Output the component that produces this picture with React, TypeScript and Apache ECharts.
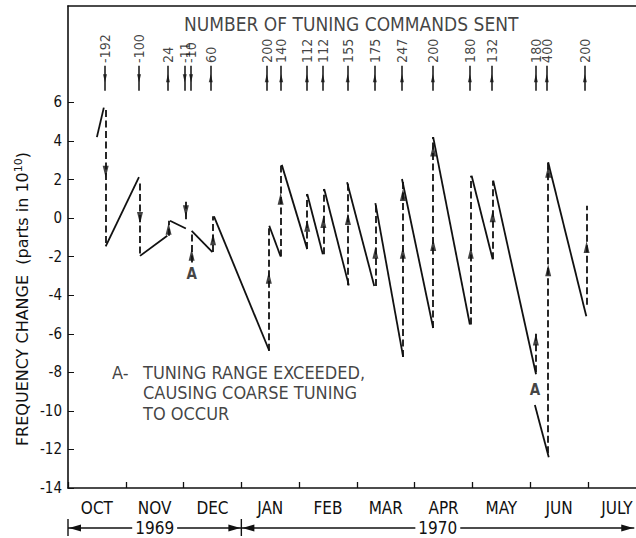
import React, { useEffect, useRef } from "react";
import * as echarts from "echarts";

const FONT = '"DejaVu Sans Condensed", "Liberation Sans Narrow", "DejaVu Sans", sans-serif';
const WIDE_FONT = '"DejaVu Sans", "Liberation Sans", sans-serif';
const INK = "#111";

// x unit: months since 1 Oct 1969
const X_MIN = 0;
const X_MAX = 9.83;
const Y_MIN = -14;
const Y_MAX = 11;

const monthNames = ["OCT", "NOV", "DEC", "JAN", "FEB", "MAR", "APR", "MAY", "JUN", "JULY"];
const monthStarts = [0, 1, 2, 3, 4, 5, 6, 7, 8, 9];
const monthCentres = [0.5, 1.5, 2.5, 3.5, 4.5, 5.5, 6.5, 7.5, 8.5, 9.5];
const yTicks = [-14, -12, -10, -8, -6, -4, -2, 0, 2, 4, 6];

const yearLabels = ["1969", "1970"];
const yearStart = [0, 3];
const yearEnd = [3, 9.8];

// drift segments (solid lines)
const driftX1 = [0.5, 0.652, 1.246, 1.765, 2.14, 2.526, 3.483, 3.7, 4.14, 4.434, 4.83, 5.32, 5.78, 6.32, 6.985, 7.36, 8.08, 8.31];
const driftY1 = [4.2, -1.47, -1.96, -0.14, -0.66, 0.09, -0.4, 2.76, 1.25, 1.51, 1.86, 0.78, 2.03, 4.2, 2.2, 1.94, -9.7, 2.9];
const driftX2 = [0.62, 1.228, 1.718, 2.04, 2.5, 3.483, 3.68, 4.14, 4.41, 4.86, 5.3, 5.8, 6.32, 6.955, 7.35, 8.1, 8.32, 8.97];
const driftY2 = [5.73, 2.12, -0.92, -0.54, -1.76, -6.88, -1.99, -1.61, -1.875, -3.49, -3.52, -7.2, -5.7, -5.52, -2.14, -8.1, -12.4, -5.09];

// tuning corrections (dashed verticals)
const corrX = [0.652, 1.246, 1.74, 2.04, 2.14, 2.51, 3.475, 3.68, 4.14, 4.42, 4.845, 5.32, 5.795, 6.32, 6.97, 7.35, 8.097, 8.31, 8.975];
const corrFrom = [5.6, 1.8, -0.92, 0.85, -2.3, -1.76, -6.88, -1.99, -1.61, -1.875, -3.49, -3.52, -7.2, -5.7, -5.52, -2.14, -8.0, -12.2, -4.5];
const corrTo = [-1.47, -1.96, -0.14, -0.2, -0.83, 0.09, -0.4, 2.76, 1.25, 1.51, 1.86, 0.78, 2.03, 4.2, 2.2, 1.94, -5.9, 2.9, 0.64];

// arrowheads on corrections
const arrowX = [0.652, 1.246, 1.74, 2.04, 2.14, 2.51, 3.475, 3.68, 4.14, 4.42, 4.845, 5.32, 5.795, 5.795, 6.32, 6.32, 6.97, 7.35, 8.097, 8.31, 8.31, 8.975];
const arrowY = [2.4, 0.0, -0.55, 0.35, -1.9, -1.1, -3.1, 1.0, -0.4, -0.2, -0.05, -1.8, 1.2, -1.8, 3.5, -1.4, -1.8, 0.1, -6.3, 2.4, -2.7, -1.5];
const arrowUp = [false, false, true, false, true, true, true, true, true, true, true, true, true, true, true, true, true, true, true, true, true, true];

// number of tuning commands sent
const commandX = [0.64, 1.23, 1.73, 2.02, 2.13, 2.47, 3.44, 3.69, 4.135, 4.41, 4.84, 5.31, 5.78, 6.315, 6.955, 7.335, 8.097, 8.287, 8.945];
const commandText = ["-192", "-100", "24", "-11", "-10", "60", "200", "140", "112", "112", "155", "175", "247", "200", "180", "132", "180", "400", "200"];
const commandTickFrom = 6.6;
const commandTickTo = 7.9;
const commandTextAt = 8.05;

// "A" marks: tuning range exceeded
const aMarkX = [2.14, 8.08];
const aMarkY = [-2.9, -8.9];

// annotation block
const noteKeyX = 0.761;
const noteTextX = 1.298;
const noteLines = ["TUNING RANGE EXCEEDED,", "CAUSING COARSE TUNING", "TO OCCUR"];
const noteLineY = [-8.02, -9.06, -10.16];

const titleText = "NUMBER OF TUNING COMMANDS SENT";
const titleX = 4.9;
const titleY = 10.05;
const yTitleCentre = -4.2;

const textSeries = (items: { x: number; y: number; text: string }[], label: any) => ({
  type: "scatter",
  silent: true,
  symbolSize: 0,
  z: 5,
  data: items.map((it) => ({ value: [it.x, it.y], label: { formatter: it.text } })),
  label: { show: true, color: INK, fontFamily: FONT, ...label },
});

export default function App() {
  const ref = useRef<HTMLDivElement>(null);
  useEffect(() => {
    const chart = echarts.init(ref.current!, null, { renderer: "svg" });
    const axisLine = { show: true, onZero: false, lineStyle: { color: INK, width: 1.6 } };
    const option: any = {
      animation: false,
      backgroundColor: "#fff",
      grid: { left: 68, right: 0, top: 6, bottom: 50 },
      xAxis: [
        {
          type: "value",
          min: X_MIN,
          max: X_MAX,
          position: "bottom",
          axisLine,
          axisTick: { show: true, inside: true, length: 6, customValues: monthStarts, lineStyle: { color: INK, width: 1.3 } },
          axisLabel: {
            show: true,
            customValues: monthCentres,
            formatter: (v: number) => monthNames[Math.floor(v)] ?? "",
            color: INK,
            fontFamily: FONT,
            fontSize: 17,
            margin: 11,
          },
          splitLine: { show: false },
        },
        {
          type: "value",
          min: X_MIN,
          max: X_MAX,
          position: "top",
          axisLine,
          axisTick: { show: false },
          axisLabel: { show: false },
          splitLine: { show: false },
        },
      ],
      yAxis: {
        type: "value",
        min: Y_MIN,
        max: Y_MAX,
        axisLine,
        axisTick: { show: true, inside: true, length: 6, customValues: yTicks, lineStyle: { color: INK, width: 1 } },
        axisLabel: { show: true, customValues: yTicks, color: INK, fontFamily: FONT, fontSize: 15, margin: 6 },
        splitLine: { show: false },
      },
      series: [
        {
          type: "lines",
          coordinateSystem: "cartesian2d",
          silent: true,
          z: 3,
          lineStyle: { color: INK, width: 1.8, opacity: 1, type: "solid" },
          data: driftX1.map((x, i) => ({ coords: [[x, driftY1[i]], [driftX2[i], driftY2[i]]] })),
        },
        {
          type: "lines",
          coordinateSystem: "cartesian2d",
          silent: true,
          z: 3,
          lineStyle: { color: INK, width: 1.8, opacity: 1, type: [7, 3.5] },
          data: corrX.map((x, i) => ({ coords: [[x, corrFrom[i]], [x, corrTo[i]]] })),
        },
        {
          type: "scatter",
          silent: true,
          z: 4,
          symbol: "triangle",
          symbolSize: [6, 12],
          itemStyle: { color: INK },
          data: arrowX.map((x, i) => ({ value: [x, arrowY[i]], symbolRotate: arrowUp[i] ? 0 : 180 })),
        },
        {
          type: "lines",
          coordinateSystem: "cartesian2d",
          silent: true,
          z: 3,
          lineStyle: { color: INK, width: 1.5, opacity: 1, type: "solid" },
          data: commandX.map((x) => ({ coords: [[x, commandTickFrom], [x, commandTickTo]] })),
        },
        {
          type: "scatter",
          silent: true,
          z: 4,
          symbol: "triangle",
          symbolSize: [4, 8],
          itemStyle: { color: INK },
          data: commandX.map((x, i) => ({
            value: [x, (commandTickFrom + commandTickTo) / 2],
            symbolRotate: commandText[i].startsWith("-") ? 180 : 0,
          })),
        },
        textSeries(
          commandX.map((x, i) => ({ x, y: commandTextAt, text: commandText[i] })),
          { position: "inside", rotate: 90, align: "left", verticalAlign: "middle", fontSize: 14 }
        ),
        textSeries([{ x: titleX, y: titleY, text: titleText }], {
          position: "inside",
          align: "center",
          verticalAlign: "middle",
          fontSize: 19,
        }),
        textSeries(
          aMarkX.map((x, i) => ({ x, y: aMarkY[i], text: "A" })),
          { position: "inside", align: "center", verticalAlign: "middle", fontSize: 15, fontWeight: "bold" }
        ),
        textSeries(
          [{ x: noteKeyX, y: noteLineY[0], text: "A-" }, ...noteLines.map((t, i) => ({ x: noteTextX, y: noteLineY[i], text: t }))],
          { position: "inside", align: "left", verticalAlign: "middle", fontSize: 18 }
        ),
      ],
    };
    chart.setOption(option);

    const px = (v: number) => chart.convertToPixel({ xAxisIndex: 0 }, v) as number;
    const py = (v: number) => chart.convertToPixel({ yAxisIndex: 0 }, v) as number;
    const yearY = 528;
    const graphic: any[] = [];
    yearLabels.forEach((label, i) => {
      const x0 = px(yearStart[i]);
      const x1 = px(yearEnd[i]);
      graphic.push({ type: "line", shape: { x1: x0, y1: yearY, x2: x1, y2: yearY }, style: { stroke: INK, lineWidth: 1.4 } });
      graphic.push({
        type: "polygon",
        shape: { points: [[x0 + 1, yearY], [x0 + 13, yearY - 3.5], [x0 + 13, yearY + 3.5]] },
        style: { fill: INK },
      });
      graphic.push({
        type: "polygon",
        shape: { points: [[x1 - 1, yearY], [x1 - 13, yearY - 3.5], [x1 - 13, yearY + 3.5]] },
        style: { fill: INK },
      });
      graphic.push({
        type: "text",
        x: (x0 + x1) / 2,
        y: yearY,
        style: {
          text: label,
          fill: INK,
          fontFamily: FONT,
          fontSize: 17,
          align: "center",
          verticalAlign: "middle",
          backgroundColor: "#fff",
          padding: [0, 3],
        },
      });
    });
    [yearStart[0], yearStart[1]].forEach((v) => {
      const x = px(v);
      graphic.push({ type: "line", shape: { x1: x, y1: yearY - 9, x2: x, y2: yearY + 8 }, style: { stroke: INK, lineWidth: 1.4 } });
    });
    graphic.push({
      type: "text",
      x: 22,
      y: py(yTitleCentre),
      rotation: Math.PI / 2,
      style: {
        text: "{a|FREQUENCY CHANGE  (parts in 10}{s|10}{a|)}",
        align: "center",
        verticalAlign: "middle",
        fill: INK,
        rich: {
          a: { fontFamily: WIDE_FONT, fontSize: 16, fill: INK, lineHeight: 19 },
          s: { fontFamily: WIDE_FONT, fontSize: 11, fill: INK, verticalAlign: "top", lineHeight: 11 },
        },
      },
    });
    chart.setOption({ graphic });

    return () => chart.dispose();
  }, []);
  return (
    <div
      ref={ref}
      style={{ position: "fixed", left: 0, top: 0, width: 636, height: 538, background: "#fff" }}
    />
  );
}
